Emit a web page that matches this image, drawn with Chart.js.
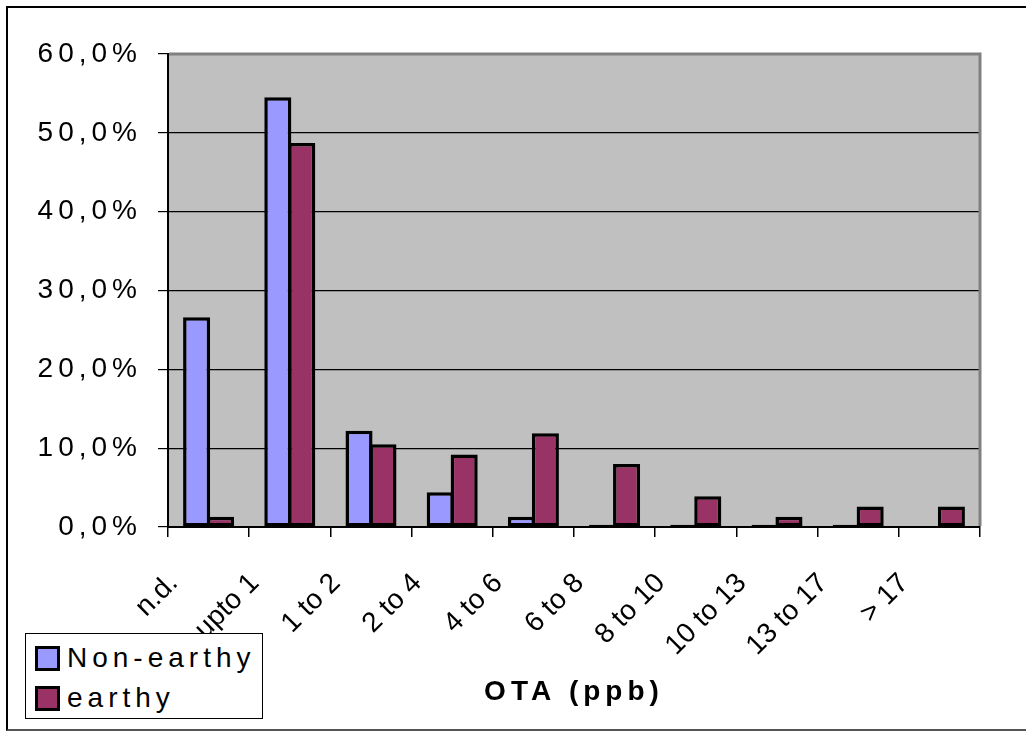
<!DOCTYPE html>
<html>
<head>
<meta charset="utf-8">
<script src="https://cdn.jsdelivr.net/npm/chart.js@4"></script>
<style>
  html, body { margin: 0; padding: 0; background: #fff; overflow: hidden; }
  #wrap { position: relative; width: 1026px; height: 731px; overflow: hidden; }
  #frame {
    position: absolute; left: 6px; top: 6px; width: 1040px; height: 721px;
    border-top: 2px solid #000; border-left: 2px solid #000; border-bottom: 2px solid #555;
  }
  #chart { position: absolute; left: 0; top: 0; }
  #legend {
    position: absolute; left: 25px; top: 633px; width: 236px; height: 84px;
    border: 1.5px solid #000; background: #fff;
    font-family: "Liberation Sans", Arial, sans-serif; font-size: 28px; letter-spacing: 5px; color: #000;
  }
  #legend .item { position: absolute; left: 9px; display: flex; align-items: center; height: 30px; }
  #legend .sw { width: 19px; height: 19px; border: 3px solid #000; margin-right: 7px; }
</style>
</head>
<body>
<div id="wrap">
  <div id="frame"></div>
  <canvas id="chart" width="1026" height="731"></canvas>
  <div id="legend"></div>
</div>
<script>
// OTA concentration classes (ppb)
const categories = ['n.d.', 'upto 1', '1 to 2', '2 to 4', '4 to 6', '6 to 8', '8 to 10', '10 to 13', '13 to 17', '> 17'];
// share of samples per class, %
const nonEarthy = [26.6, 54.5, 12.2, 4.4, 1.3, 0.3, 0.3, 0.3, 0.3, 0];
const earthy = [1.3, 48.7, 10.5, 9.2, 11.9, 8.0, 3.9, 1.3, 2.6, 2.6];
const seriesNames = ['Non-earthy', 'earthy'];
const seriesColors = ['#9999FF', '#993366'];

const FONT = '"Liberation Sans", Arial, sans-serif';

// grey plot area with a grey frame on its top and right edges
const plotBackground = {
  id: 'plotBackground',
  beforeDraw(chart) {
    const { ctx, chartArea: a } = chart;
    ctx.save();
    ctx.fillStyle = '#C0C0C0';
    ctx.fillRect(a.left, a.top, a.right - a.left, a.bottom - a.top);
    ctx.restore();
  },
  afterDraw(chart) {
    const { ctx, chartArea: a } = chart;
    ctx.save();
    ctx.strokeStyle = '#808080';
    ctx.lineWidth = 3;
    ctx.beginPath();
    ctx.moveTo(a.left + 1, a.top);
    ctx.lineTo(a.right, a.top);
    ctx.lineTo(a.right, a.bottom - 1);
    ctx.stroke();
    ctx.restore();
  }
};

// wide letter spacing for the value labels and the axis title
const spacedText = {
  id: 'spacedText',
  afterLayout(chart) {
    const wrap = (scale, method, sp) => {
      if (!scale || scale[method].__spaced) return;
      const orig = scale[method];
      const f = function (...args) {
        this.ctx.save();
        this.ctx.letterSpacing = sp;
        orig.apply(this, args);
        this.ctx.restore();
      };
      f.__spaced = true;
      scale[method] = f;
    };
    wrap(chart.scales.y, 'drawLabels', '5px');
    wrap(chart.scales.x, 'drawTitle', '5px');
  }
};

const barStyle = {
  borderColor: '#000',
  borderWidth: 3.5,
  borderSkipped: false,
  inflateAmount: 0,
  categoryPercentage: 0.59,
  barPercentage: 1.13
};

const chart = new Chart(document.getElementById('chart'), {
  type: 'bar',
  data: {
    labels: categories,
    datasets: [
      Object.assign({ label: seriesNames[0], data: nonEarthy, backgroundColor: seriesColors[0] }, barStyle),
      Object.assign({ label: seriesNames[1], data: earthy, backgroundColor: seriesColors[1] }, barStyle)
    ]
  },
  options: {
    responsive: false,
    animation: false,
    layout: { padding: { left: 0, top: 54, right: 46, bottom: 0 } },
    plugins: {
      legend: { display: false },
      tooltip: { enabled: false }
    },
    scales: {
      x: {
        grid: { offset: true, drawOnChartArea: false, drawTicks: true, tickLength: 10, color: '#000', lineWidth: 1.5 },
        border: { color: '#000', width: 2 },
        ticks: {
          color: '#000', font: { family: FONT, size: 28 },
          minRotation: 45, maxRotation: 45, autoSkip: false, padding: 30, labelOffset: -35
        },
        title: {
          display: true, text: 'OTA (ppb)', color: '#000',
          font: { family: FONT, size: 28, weight: 'bold' },
          padding: { top: 0, bottom: 22 }
        },
        afterFit(scale) { scale.height = 204; }
      },
      y: {
        min: 0, max: 60,
        grid: { color: '#000', lineWidth: 1.2, tickLength: 10, drawTicks: true },
        border: { color: '#000', width: 2 },
        ticks: {
          stepSize: 10, color: '#000', font: { family: FONT, size: 28 }, padding: 16,
          callback: v => v.toFixed(1).replace('.', ',') + '%'
        },
        afterFit(scale) { scale.width = 168; }
      }
    }
  },
  plugins: [plotBackground, spacedText]
});

// legend box built from the chart's own datasets
const legend = document.getElementById('legend');
chart.data.datasets.forEach((ds, i) => {
  const item = document.createElement('div');
  item.className = 'item';
  item.style.top = (9 + i * 40) + 'px';
  const sw = document.createElement('span');
  sw.className = 'sw';
  sw.style.background = ds.backgroundColor;
  const tx = document.createElement('span');
  tx.textContent = ds.label;
  item.appendChild(sw);
  item.appendChild(tx);
  legend.appendChild(item);
});
</script>
</body>
</html>
